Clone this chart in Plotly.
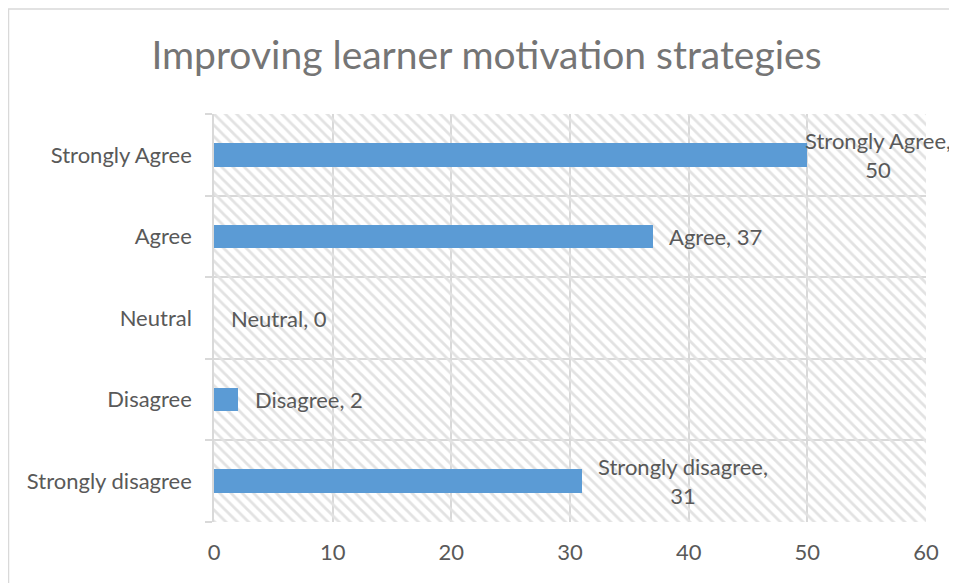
import plotly.graph_objects as go

title = "Improving learner motivation strategies"
categories = ["Strongly disagree", "Disagree", "Neutral", "Agree", "Strongly Agree"]
values = [31, 2, 0, 37, 50]
label_texts = ["Strongly disagree,<br>31", "Disagree, 2", "Neutral, 0", "Agree, 37", "Strongly Agree,<br>50"]
x_ticks = [0, 10, 20, 30, 40, 50, 60]

# page body has an 8px margin; figure is sized to fill the rest of the window
W, H = 949, 575
L, R, T, B = 206, 31, 106, 61
PW, PH = W - L - R, H - T - B
x_max = x_ticks[-1]

txt = "#595959"
grid = "#d9d9d9"
FONT = "Lato"

fig = go.Figure()
# hatched plot-area background
fig.add_trace(go.Bar(
    y=categories, x=[x_max] * len(categories), orientation="h", width=1,
    marker=dict(color="rgba(0,0,0,0)", line=dict(width=0),
                pattern=dict(shape="\\", fgcolor="#e2e2e2", bgcolor="rgba(0,0,0,0)",
                             size=8, solidity=0.35, fillmode="replace")),
    hoverinfo="skip", showlegend=False,
))
fig.add_trace(go.Bar(
    y=categories, x=values, orientation="h", width=0.29,
    marker=dict(color="#5b9bd5", line=dict(width=0)),
    showlegend=False,
))

# data labels
shifts = [14, 15, 15, 14, -4]
for c, v, t, s in zip(categories, values, label_texts, shifts):
    fig.add_annotation(x=v, y=c, xref="x", yref="y", text=t, showarrow=False,
                       xanchor="left", xshift=s, align="center",
                       font=dict(family=FONT, size=22, color=txt))

# outer chart border (extends past right/bottom window edges)
fig.add_shape(type="rect", xref="paper", yref="paper",
              x0=(0.5 - L) / PW, x1=(W + 30 - L) / PW,
              y0=-(B + 30) / PH, y1=1 + (T - 1) / PH,
              line=dict(color=grid, width=1.5), layer="below")

fig.update_layout(
    width=W, height=H, margin=dict(l=L, r=R, t=T, b=B),
    paper_bgcolor="white", plot_bgcolor="white",
    barmode="overlay", bargap=0,
    title=dict(text=title, x=478.5 / W, xanchor="center", xref="container",
               y=1 - 47 / H, yanchor="middle", yref="container",
               font=dict(family=FONT, size=39, color="#757575")),
    xaxis=dict(range=[0, x_max], tickvals=x_ticks, showgrid=True, gridcolor=grid, gridwidth=1.5,
               zeroline=False, showline=False, ticks="", tickfont=dict(family=FONT, size=22, color=txt),
               ticklabelstandoff=15, fixedrange=True),
    yaxis=dict(type="category", categoryorder="array", categoryarray=categories,
               tickson="boundaries", showgrid=True, gridcolor=grid, gridwidth=1.5,
               ticks="outside", ticklen=7, tickcolor=grid, tickwidth=1.5,
               showline=True, linecolor=grid, linewidth=1.5,
               tickfont=dict(family=FONT, size=22, color=txt), ticklabelstandoff=16,
               fixedrange=True),
)
fig.write_html("out.html")
